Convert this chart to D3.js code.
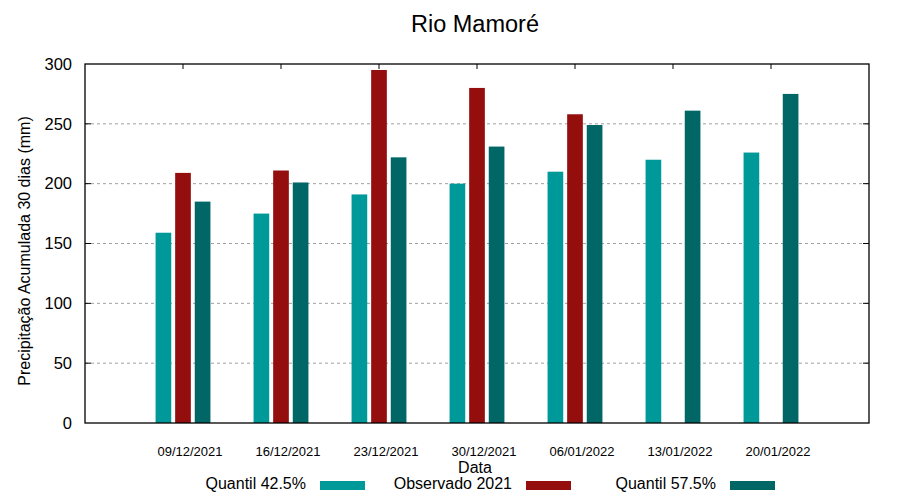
<!DOCTYPE html>
<html><head><meta charset="utf-8">
<script src="https://cdn.jsdelivr.net/npm/d3@7"></script>
<style>body{margin:0;background:#fff}svg{display:block;font-family:"Liberation Sans",Arial,sans-serif}</style>
</head><body><svg id="c" width="900" height="500"></svg>
<script>
const categories = ["09/12/2021","16/12/2021","23/12/2021","30/12/2021","06/01/2022","13/01/2022","20/01/2022"];
const q425 = [159, 175, 191, 200, 210, 220, 226];
const obs2021 = [209, 211, 295, 280, 258, null, null];
const q575 = [185, 201, 222, 231, 249, 261, 275];
const yTicks = [0, 50, 100, 150, 200, 250, 300];
const seriesNames = ["Quantil 42.5%", "Observado 2021", "Quantil 57.5%"];
const colors = ["#009999", "#940e0e", "#006666"];

const svg = d3.select("#c");
const L = 85, R = 869, T = 64, B = 423;
const x = d3.scaleLinear().domain([-1, categories.length]).range([L, R]);
const y = d3.scaleLinear().domain([0, 300]).range([B, T]);

// grid
svg.append("g").selectAll("line").data(yTicks.filter(d => d > 0 && d < 300)).join("line")
  .attr("x1", L).attr("x2", R).attr("y1", d => y(d)).attr("y2", d => y(d))
  .attr("stroke", "#a0a0a0").attr("stroke-width", 1).attr("stroke-dasharray", "3,3");

// bars
const series = [q425, obs2021, q575];
const offsets = [-0.2, 0, 0.2];
const bw = x(0.16) - x(0);
series.forEach((s, si) => {
  svg.append("g").selectAll("rect").data(s.map((v, i) => ({v, i})).filter(d => d.v != null)).join("rect")
    .attr("x", d => x(d.i + offsets[si]) - bw / 2)
    .attr("width", bw)
    .attr("y", d => y(d.v))
    .attr("height", d => y(0) - y(d.v))
    .attr("fill", colors[si]);
});

// y ticks (mirror on right)
svg.append("g").selectAll("line").data(yTicks.filter(d => d > 0 && d < 300)).join("line")
  .attr("x1", R - 6).attr("x2", R).attr("y1", d => y(d)).attr("y2", d => y(d))
  .attr("stroke", "#000").attr("stroke-width", 1);
svg.append("g").selectAll("line").data(yTicks.filter(d => d > 0 && d < 300)).join("line")
  .attr("x1", L).attr("x2", L + 6).attr("y1", d => y(d)).attr("y2", d => y(d))
  .attr("stroke", "#000").attr("stroke-width", 1);
// x ticks on top
svg.append("g").selectAll("line").data(categories.map((c, i) => i)).join("line")
  .attr("x1", d => x(d)).attr("x2", d => x(d)).attr("y1", T).attr("y2", T + 5)
  .attr("stroke", "#000").attr("stroke-width", 1);

// border
svg.append("rect").attr("x", L).attr("y", T).attr("width", R - L).attr("height", B - T)
  .attr("fill", "none").attr("stroke", "#000").attr("stroke-width", 1.3);

// y labels
svg.append("g").selectAll("text").data(yTicks).join("text")
  .attr("x", 72).attr("y", d => y(d)).attr("dy", "0.35em")
  .attr("text-anchor", "end").attr("font-size", 16.5).text(d => d);

// x labels
svg.append("g").selectAll("text").data(categories).join("text")
  .attr("x", (d, i) => x(i) + 7).attr("y", 456)
  .attr("text-anchor", "middle").attr("font-size", 13).text(d => d);

svg.append("text").attr("x", 475).attr("y", 473).attr("text-anchor", "middle")
  .attr("font-size", 16).text("Data");

svg.append("text").attr("transform", "translate(30,251) rotate(-90)")
  .attr("text-anchor", "middle").attr("font-size", 16)
  .text("Precipitação Acumulada 30 dias (mm)");

svg.append("text").attr("x", 475).attr("y", 32).attr("text-anchor", "middle")
  .attr("font-size", 23.5).text("Rio Mamoré");

// legend
const legX = [306, 512, 716];
seriesNames.forEach((n, i) => {
  svg.append("text").attr("x", legX[i]).attr("y", 489).attr("text-anchor", "end")
    .attr("font-size", 16).text(n);
  svg.append("rect").attr("x", legX[i] + 14).attr("y", 481).attr("width", 45).attr("height", 9)
    .attr("fill", colors[i]);
});
</script></body></html>
